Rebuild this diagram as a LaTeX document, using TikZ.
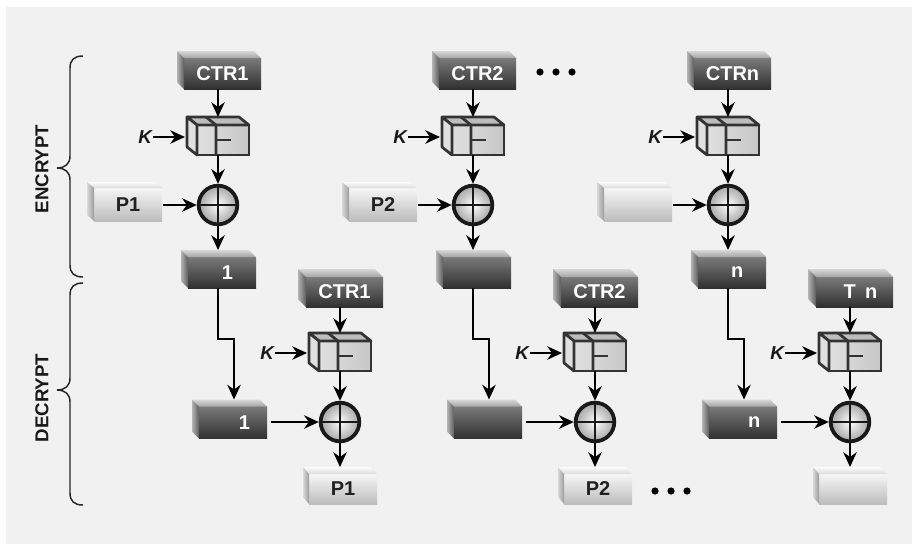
\documentclass[tikz,border=0pt]{standalone}
\usepackage{fontspec}
\setmainfont{Liberation Sans}
\usetikzlibrary{arrows.meta,calc}
\definecolor{bg}{HTML}{F1F1F1}
\definecolor{dfT}{HTML}{7A7A7A}
\definecolor{dfB}{HTML}{303030}
\definecolor{dtT}{HTML}{D8D8D8}
\definecolor{dtB}{HTML}{A4A4A4}
\definecolor{dlT}{HTML}{B4B4B4}
\definecolor{dlB}{HTML}{5C5C5C}
\definecolor{lfT}{HTML}{F6F6F6}
\definecolor{lfB}{HTML}{BDBDBD}
\definecolor{ltT}{HTML}{FCFCFC}
\definecolor{ltB}{HTML}{DCDCDC}
\definecolor{llT}{HTML}{D8D8D8}
\definecolor{llB}{HTML}{9C9C9C}
\definecolor{cubeln}{HTML}{333333}
\definecolor{txt}{HTML}{222222}
\newcommand\boxsides[4]{%
  \shade[#4top] (#1.north west) -- ++(#2,#3) -- ($(#1.north east)+(#2,#3)$) -- (#1.north east) -- cycle;
  \shade[#4left] (#1.north west) -- ++(#2,#3) -- ($(#1.south west)+(#2,#3)$) -- (#1.south west) -- cycle;
}
\newcommand\cipher[2]{%
  \node[cubef] (#1) at (#2) {};
  \filldraw[cubetop] (#1.north west) -- ++(-10,-8) -- ($(#1.north east)+(-10,-8)$) -- (#1.north east) -- cycle;
  \filldraw[cubeleft] (#1.north west) -- ++(-10,-8) -- ($(#1.south west)+(-10,-8)$) -- (#1.south west) -- cycle;
  \draw[cubeline] ($(#1.south west)+(19,0)$) -- ($(#1.north west)+(19,0)$) -- ++(-10,-8);
  \draw[cubeline] ($(#1.west)+(19,0)$) -- ++(15,0);
}
\newcommand\column[7]{%
  \coordinate (A#1) at (#2,0);
  \coordinate (B#1) at (#2+122,0);
  % encrypt
  \node[dfront,minimum width=57.75pt,minimum height=23.25pt] (ctrE#1) at ($(A#1)+(4.5,73.5)$) {#3};
  \boxsides{ctrE#1}{-7}{-7}{d}
  \cipher{cE#1}{$(A#1)+(5,140)$}
  \node[klab] (kE#1) at ($(A#1)+(-73,137)$) {K};
  \node[xorc] (xE#1) at ($(A#1)+(0,205)$) {};
  \draw[xline] (xE#1.north) -- (xE#1.south) (xE#1.west) -- (xE#1.east);
  \node[lfront,minimum width=51pt,minimum height=24.75pt] (pE#1) at ($(A#1)+(-90,204.5)$) {#4};
  \boxsides{pE#1}{-7}{-6}{l}
  \node[dfront,minimum width=51pt,minimum height=23.25pt] (oE#1) at ($(A#1)+(4,272.5)$) {#5};
  \boxsides{oE#1}{-7}{-7}{d}
  % decrypt
  \node[dfront,minimum width=57.75pt,minimum height=22.5pt] (ctrD#1) at ($(B#1)+(4.5,292)$) {#6};
  \boxsides{ctrD#1}{-8}{-8}{d}
  \cipher{cD#1}{$(B#1)+(5,356)$}
  \node[klab] (kD#1) at ($(B#1)+(-73,353)$) {K};
  \node[xorc] (xD#1) at ($(B#1)+(0,422)$) {};
  \draw[xline] (xD#1.north) -- (xD#1.south) (xD#1.west) -- (xD#1.east);
  \node[dfront,minimum width=51pt,minimum height=24pt] (iD#1) at ($(A#1)+(15,422.5)$) {\hspace{9pt}#5};
  \boxsides{iD#1}{-7}{-7}{d}
  \node[lfront,minimum width=51pt,minimum height=22.5pt] (oD#1) at ($(B#1)+(3,489)$) {#7};
  \boxsides{oD#1}{-6}{-7}{l}
  % connectors
  \draw[arr] (ctrE#1.south -| A#1) -- ($(cE#1.north -| A#1)+(0,-8)$);
  \draw[arr] (cE#1.south -| A#1) -- (xE#1.north);
  \draw[arr] (kE#1.east) -- ($(cE#1.north west)+(-12,12)$);
  \draw[arr] ($(pE#1.east |- xE#1.west)+(1,0)$) -- (xE#1.west);
  \draw[arr] (xE#1.south) -- ($(oE#1.north -| A#1)+(0,-7)$);
  \draw[arr] (oE#1.south -| A#1) -- ++(0,51) -| ($(iD#1.north west)+(35,-7)$);
  \draw[arr] (ctrD#1.south -| B#1) -- ($(cD#1.north -| B#1)+(0,-8)$);
  \draw[arr] (cD#1.south -| B#1) -- (xD#1.north);
  \draw[arr] (kD#1.east) -- ($(cD#1.north west)+(-12,12)$);
  \draw[arr] ($(iD#1.east |- xD#1.west)+(4,0)$) -- (xD#1.west);
  \draw[arr] (xD#1.south) -- ($(oD#1.north -| B#1)+(0,-7)$);
}
\begin{document}
\begin{tikzpicture}[x=0.75pt,y=-0.75pt,
  arr/.style={line width=2.2pt,-{Stealth[length=11pt,width=10pt,inset=3.5pt]}},
  dfront/.style={rectangle,inner sep=0pt,outer sep=0pt,top color=dfT,bottom color=dfB,text=white,font=\fontsize{15}{17}\selectfont\bfseries},
  lfront/.style={rectangle,inner sep=0pt,outer sep=0pt,top color=lfT,bottom color=lfB,text=txt,font=\fontsize{15}{17}\selectfont\bfseries},
  dtop/.style={top color=dtT,bottom color=dtB},
  dleft/.style={left color=dlT,right color=dlB},
  ltop/.style={top color=ltT,bottom color=ltB},
  lleft/.style={left color=llT,right color=llB},
  cubef/.style={rectangle,inner sep=0pt,outer sep=0pt,minimum width=39pt,minimum height=22.5pt,draw=cubeln,line width=2pt,left color=black!12,middle color=white,right color=black!22},
  cubetop/.style={draw=cubeln,line width=2pt,line join=round,fill=black!26},
  cubeleft/.style={draw=cubeln,line width=2pt,line join=round,fill=black!12},
  cubeline/.style={draw=cubeln,line width=2pt},
  klab/.style={inner sep=1pt,font=\fontsize{14}{16}\selectfont\bfseries\itshape,text=black!90},
  xorc/.style={circle,minimum size=29pt,inner sep=0pt,draw=black!90,line width=2.8pt,inner color=white,outer color=black!35},
  xline/.style={line width=2.2pt,black!90},
  brace/.style={line width=1.1pt,black!85},
  side/.style={font=\fontsize{14}{16}\selectfont\bfseries,text=black!90,rotate=90}
]
\useasboundingbox (0,0) rectangle (912,544);
\fill[white] (0,0) rectangle (912,544);
\fill[bg] (6,7) rectangle (912,544);
\column{1}{218}{CTR1}{P1}{\hspace{8pt}1}{CTR1}{P1}
\column{2}{473}{CTR2}{P2}{}{CTR2}{P2}
\column{3}{728}{CTRn}{}{\hspace{8pt}n}{\hspace{9pt}T\hspace{7pt}n}{}
% ellipses
\foreach \x in {540,556,572} \fill (\x,72) circle [radius=3.6];
\foreach \x in {655,671,687} \fill (\x,491) circle [radius=3.6];
% braces
\draw[brace] (83,56) .. controls (74,56) and (70,60) .. (70,68) -- (70,156)
  .. controls (70,164) and (65,168) .. (57,168) .. controls (65,168) and (70,172) .. (70,180)
  -- (70,265) .. controls (70,273) and (74,277) .. (83,277);
\draw[brace] (83,283) .. controls (74,283) and (70,287) .. (70,295) -- (70,378)
  .. controls (70,386) and (65,390) .. (57,390) .. controls (65,390) and (70,394) .. (70,402)
  -- (70,493) .. controls (70,501) and (74,505) .. (83,505);
\node[side] (enc) at (42,169) {ENCRYPT};
\node[side] (dec) at (42,398) {DECRYPT};
\end{tikzpicture}
\end{document}
